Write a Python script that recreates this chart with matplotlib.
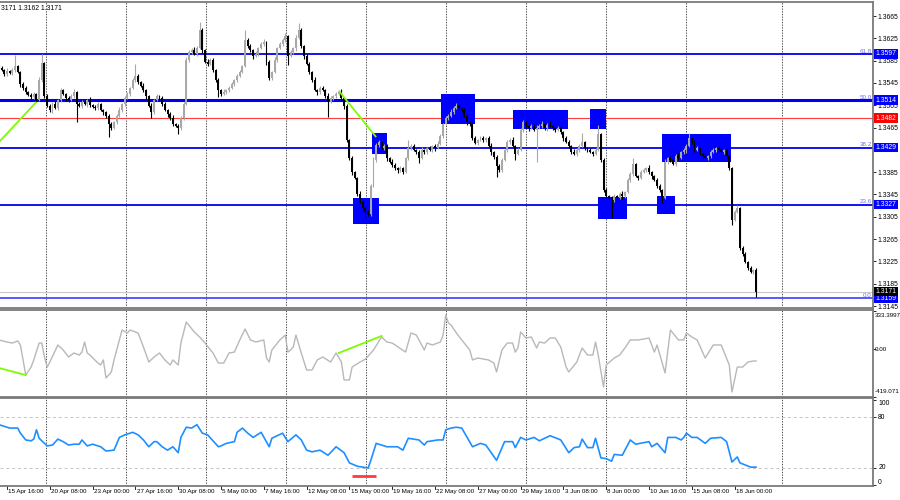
import numpy as np
import matplotlib
matplotlib.use("Agg")
import matplotlib.pyplot as plt
from matplotlib.transforms import blended_transform_factory as blend

plt.rcParams['font.family'] = ['Liberation Sans', 'DejaVu Sans']

# ---------------- data ----------------
open0 = 1.3575
closes = [
    1.3572, 1.3568, 1.3561, 1.3566, 1.3563, 1.3568, 1.3575, 1.3565, 1.3543, 1.3536,
    1.3529, 1.3523, 1.3520, 1.3525, 1.3514, 1.3550, 1.3581, 1.3522, 1.3504, 1.3496,
    1.3507, 1.3500, 1.3514, 1.3532, 1.3525, 1.3518, 1.3514, 1.3522, 1.3529, 1.3507,
    1.3504, 1.3511, 1.3507, 1.3514, 1.3505, 1.3502, 1.3500, 1.3507, 1.3496, 1.3493,
    1.3486, 1.3471, 1.3464, 1.3475, 1.3486, 1.3496, 1.3507, 1.3518, 1.3525, 1.3536,
    1.3550, 1.3558, 1.3547, 1.3540, 1.3532, 1.3522, 1.3504, 1.3493, 1.3514, 1.3522,
    1.3518, 1.3507, 1.3496, 1.3489, 1.3482, 1.3471, 1.3468, 1.3464, 1.3482, 1.3507,
    1.3586, 1.3600, 1.3604, 1.3597, 1.3607, 1.3640, 1.3604, 1.3583, 1.3579, 1.3586,
    1.3568, 1.3550, 1.3532, 1.3525, 1.3529, 1.3532, 1.3536, 1.3543, 1.3550, 1.3558,
    1.3565, 1.3575, 1.3622, 1.3611, 1.3604, 1.3593, 1.3597, 1.3607, 1.3615, 1.3618,
    1.3583, 1.3554, 1.3565, 1.3586, 1.3607, 1.3615, 1.3622, 1.3629, 1.3593, 1.3600,
    1.3607, 1.3626, 1.3640, 1.3611, 1.3593, 1.3579, 1.3565, 1.3550, 1.3532, 1.3529,
    1.3536, 1.3532, 1.3522, 1.3511, 1.3518, 1.3522, 1.3525, 1.3529, 1.3518, 1.3504,
    1.3443, 1.3410, 1.3385, 1.3375, 1.3346, 1.3332, 1.3321, 1.3314, 1.3310, 1.3360,
    1.3407, 1.3434, 1.3439, 1.3428, 1.3432, 1.3410, 1.3403, 1.3398, 1.3392, 1.3389,
    1.3392, 1.3385, 1.3410, 1.3428, 1.3432, 1.3425, 1.3421, 1.3410, 1.3425, 1.3421,
    1.3428, 1.3425, 1.3432, 1.3428, 1.3436, 1.3450, 1.3471, 1.3482, 1.3486, 1.3493,
    1.3500, 1.3504, 1.3500, 1.3496, 1.3486, 1.3475, 1.3471, 1.3446, 1.3437, 1.3443,
    1.3446, 1.3443, 1.3446, 1.3432, 1.3421, 1.3412, 1.3396, 1.3389, 1.3407, 1.3425,
    1.3439, 1.3443, 1.3432, 1.3418, 1.3425, 1.3461, 1.3475, 1.3468, 1.3464, 1.3468,
    1.3461, 1.3464, 1.3468, 1.3471, 1.3464, 1.3470, 1.3468, 1.3464, 1.3461, 1.3464,
    1.3457, 1.3446, 1.3439, 1.3432, 1.3421, 1.3418, 1.3425, 1.3432, 1.3439, 1.3428,
    1.3425, 1.3421, 1.3418, 1.3425, 1.3454, 1.3407, 1.3353, 1.3342, 1.3339, 1.3335,
    1.3342, 1.3339, 1.3346, 1.3342, 1.3349, 1.3371, 1.3382, 1.3399, 1.3378, 1.3375,
    1.3385, 1.3389, 1.3392, 1.3385, 1.3378, 1.3371, 1.3360, 1.3353, 1.3339, 1.3403,
    1.3410, 1.3407, 1.3399, 1.3414, 1.3410, 1.3421, 1.3425, 1.3432, 1.3446, 1.3439,
    1.3425, 1.3428, 1.3418, 1.3414, 1.3410, 1.3414, 1.3421, 1.3425, 1.3428, 1.3425,
    1.3421, 1.3425, 1.3414, 1.3392, 1.3299, 1.3314, 1.3321, 1.3249, 1.3238, 1.3224,
    1.3213, 1.3206, 1.3210, 1.3171,
]
# wick lengths beyond the candle body, in pips
wick_up = [
    3, 4, 2, 5, 3, 4, 20, 3, 2, 4,   3, 2, 4, 3, 2, 5, 16, 2, 3, 4,
    3, 5, 2, 4, 3, 2, 4, 3, 5, 2,    3, 4, 2, 3, 5, 2, 3, 4, 2, 3,
    2, 3, 4, 2, 3, 5, 2, 4, 3, 2,    4, 21, 3, 2, 4, 3, 2, 5, 3, 4,
    2, 3, 4, 2, 3, 5, 2, 3, 4, 3,    5, 4, 3, 6, 4, 14, 3, 2, 5, 4,
    3, 2, 4, 3, 5, 2, 3, 4, 2, 3,    4, 3, 18, 4, 3, 2, 5, 3, 4, 6,
    3, 4, 2, 5, 3, 4, 3, 5, 2, 4,    3, 5, 12, 3, 2, 4, 3, 2, 5, 3,
    4, 3, 2, 5, 3, 2, 4, 3, 5, 2,    3, 2, 4, 3, 2, 5, 3, 2, 3, 4,
    5, 3, 4, 2, 3, 4, 2, 5, 3, 2,    4, 3, 2, 15, 3, 4, 2, 3, 5, 2,
    3, 4, 2, 3, 5, 4, 3, 4, 3, 5,    3, 5, 3, 2, 4, 3, 2, 3, 4, 2,
    3, 4, 2, 3, 5, 2, 3, 4, 3, 2,    4, 3, 5, 2, 3, 4, 3, 2, 5, 3,
    4, 6, 3, 5, 2, 4, 6, 3, 2, 4,    3, 2, 4, 3, 2, 5, 3, 4, 16, 2,
    3, 4, 2, 3, 16, 2, 3, 4, 2, 3,   4, 2, 3, 5, 2, 3, 4, 11, 3, 2,
    4, 3, 2, 5, 3, 2, 4, 3, 2, 5,    3, 4, 2, 3, 5, 2, 4, 3, 9, 2,
    3, 4, 2, 3, 5, 2, 4, 3, 2, 4,    3, 2, 4, 3, 2, 3, 5, 2, 3, 4,
    2, 3, 2, 3,
]
wick_dn = [
    3, 2, 4, 3, 2, 4, 3, 2, 5, 3,    4, 2, 3, 4, 3, 2, 3, 4, 2, 3,
    5, 2, 4, 3, 2, 5, 3, 2, 4, 32,   3, 4, 2, 5, 3, 2, 4, 3, 2, 5,
    3, 23, 4, 2, 3, 2, 4, 3, 2, 3,   2, 3, 4, 2, 3, 5, 2, 11, 3, 2,
    4, 3, 2, 5, 3, 4, 2, 10, 3, 4,   2, 3, 4, 2, 3, 2, 5, 3, 4, 2,
    3, 4, 12, 3, 2, 4, 3, 2, 4, 3,   2, 3, 2, 4, 3, 5, 2, 3, 2, 4,
    5, 3, 4, 2, 3, 2, 4, 3, 16, 2,   3, 4, 2, 3, 5, 2, 4, 3, 2, 5,
    3, 2, 4, 27, 2, 3, 4, 2, 3, 5,   4, 3, 5, 2, 4, 3, 5, 11, 4, 3,
    2, 3, 4, 2, 3, 5, 2, 4, 3, 6,    3, 4, 2, 3, 4, 2, 3, 9, 2, 3,
    4, 2, 3, 5, 2, 3, 4, 2, 3, 2,    3, 2, 4, 3, 2, 5, 3, 4, 2, 3,
    2, 4, 3, 2, 5, 3, 20, 4, 3, 2,   3, 4, 2, 11, 3, 2, 4, 3, 5, 2,
    3, 57, 2, 4, 3, 5, 2, 3, 4, 2,   3, 5, 2, 4, 3, 2, 4, 3, 2, 4,
    3, 2, 4, 3, 2, 3, 4, 2, 3, 32,   3, 4, 2, 5, 3, 2, 4, 3, 2, 4,
    3, 2, 4, 3, 5, 2, 3, 4, 9, 2,    3, 4, 2, 3, 4, 2, 3, 5, 2, 3,
    4, 2, 3, 5, 2, 4, 3, 2, 3, 4,    2, 3, 4, 3, 9, 2, 3, 4, 3, 2,
    3, 2, 4, 9,
]

# Fibonacci / horizontal levels
fib_levels = [1.3597, 1.3514, 1.3429, 1.3327, 1.3159]
fib_names = ["61.8", "50.0", "38.2", "23.6", "0.0"]
red_level = 1.3482
bid_price = 1.3171
price_ticks = [1.3665, 1.3625, 1.3585, 1.3545, 1.3505, 1.3465, 1.3425,
               1.3385, 1.3345, 1.3305, 1.3265, 1.3225, 1.3185, 1.3145]

# highlighted zones: (first bar, last bar, low price, high price)
zones = [
    (132.3, 142.1, 1.3292, 1.3339),
    (139.4, 145.0, 1.3418, 1.3455),
    (165.2, 178.0, 1.3471, 1.3525),
    (192.1, 212.7, 1.3462, 1.3496),
    (220.9, 226.9, 1.3462, 1.3498),
    (223.9, 234.8, 1.3301, 1.3340),
    (246.0, 252.7, 1.3310, 1.3342),
    (247.9, 273.6, 1.3403, 1.3453),
]
# divergence lines: (bar0, value0, bar1, value1)
price_trend_lines = [(0, 1.3439, 14, 1.3511), (127, 1.3531, 141, 1.3448)]
cci_trend_lines = [(0, -165, 10, -227), (127, -34, 143, 115)]

cci_bar = [0, 3, 5, 7, 8, 10, 12, 13, 15, 16, 17, 18, 19, 22, 24, 26, 28, 30, 31, 32,
           33, 34, 37, 38, 39, 40, 42, 43, 45, 46, 48, 49, 52, 54, 56, 58, 60, 62, 64, 65,
           67, 68, 70, 73, 75, 77, 80, 82, 84, 86, 88, 90, 92, 94, 96, 99, 100, 101, 102, 105,
           107, 108, 109, 110, 111, 113, 115, 117, 119, 121, 124, 126, 128, 129, 131, 132, 135, 137, 140, 143,
           145, 147, 152, 154, 156, 159, 160, 162, 165, 166, 167, 168, 169, 171, 173, 176, 177, 179, 183, 185,
           186, 188, 190, 192, 193, 194, 195, 197, 199, 201, 202, 204, 206, 208, 210, 212, 213, 216, 218, 220,
           222, 223, 224, 226, 227, 230, 232, 234, 236, 239, 243, 245, 246, 249, 251, 254, 256, 257, 259, 261,
           264, 267, 270, 273, 274, 276, 278, 280, 282, 283]
cci_val = [80, 62, 53, 71, 36, -227, -157, -95, 53, 53, -69, -157, -113, 36, -8, -69, -34, -52, -26, 62,
           -34, -52, -122, -139, -95, -253, -200, -95, 80, 167, 141, 167, 141, 18, -113, -69, -34, -95, -139, -95,
           -139, 53, 237, 150, 106, 53, -34, -122, -122, -34, -26, 80, 176, 80, 62, 80, -78, -113, -8, 80,
           123, -26, -8, 18, 123, -34, -183, -183, -95, -69, -113, -34, -113, -270, -270, -157, -113, -87, -8, 106,
           62, 53, -26, 141, 123, -8, 53, 36, 62, 123, 298, 228, 211, 141, 80, -8, -95, -78, -95, -122,
           -200, -8, 53, 53, -26, 10, 150, 97, 106, 10, 62, 53, 97, 97, 18, -157, -200, -113, 10, -52,
           -52, 62, -52, -332, -139, -78, -52, 10, 80, 80, 97, -26, 36, -209, 167, 80, 80, 141, 106, 80,
           -78, 36, 36, -139, -375, -157, -157, -113, -104, -104]
cci_max, cci_min = 333.3997, -419.071

rsi_bar = [0, 3, 4, 7, 8, 10, 12, 13, 14, 15, 18, 20, 22, 24, 26, 28, 30, 31, 33, 35,
           38, 40, 43, 45, 47, 50, 52, 54, 56, 58, 59, 61, 63, 65, 67, 68, 70, 72, 74, 76,
           78, 82, 83, 85, 88, 89, 91, 93, 95, 98, 101, 102, 104, 106, 108, 111, 113, 115, 117, 120,
           123, 126, 129, 131, 134, 136, 138, 139, 141, 145, 149, 151, 153, 157, 159, 160, 164, 166, 167, 169,
           171, 173, 175, 177, 180, 182, 186, 189, 192, 193, 195, 197, 200, 202, 206, 210, 213, 215, 217, 218,
           220, 222, 223, 225, 227, 229, 230, 233, 236, 238, 243, 244, 246, 249, 250, 253, 255, 256, 257, 259,
           261, 264, 266, 270, 272, 274, 276, 277, 281, 283]
rsi_val = [71, 68, 67, 67, 61, 53, 52, 54, 65, 55, 46, 47, 54, 51, 47, 48, 48, 53, 46, 48,
           45, 40, 41, 56, 59, 62, 59, 53, 45, 51, 51, 45, 41, 45, 38, 56, 68, 67, 71, 61,
           59, 45, 46, 49, 51, 62, 67, 61, 56, 62, 45, 55, 58, 61, 51, 59, 53, 41, 39, 41,
           35, 45, 38, 26, 22, 21, 20, 29, 49, 45, 45, 41, 55, 53, 47, 51, 53, 53, 65, 67,
           68, 67, 56, 45, 49, 47, 29, 51, 51, 44, 56, 53, 56, 52, 58, 53, 38, 44, 45, 54,
           44, 44, 55, 32, 31, 28, 36, 35, 53, 48, 51, 45, 49, 38, 56, 56, 53, 56, 61, 56,
           56, 49, 55, 56, 51, 27, 33, 26, 21, 21]
rsi_levels = [80, 20]
rsi_labels = ["100", "80", "20", "0"]
rsi_oversold_mark = (132, 141, 10.5)

date_bars = [3 + 16 * k for k in range(18)]
date_labels = ["15 Apr 16:00", "20 Apr 08:00", "23 Apr 00:00", "27 Apr 16:00", "30 Apr 08:00",
               "5 May 00:00", "7 May 16:00", "12 May 08:00", "15 May 00:00", "19 May 16:00",
               "22 May 08:00", "27 May 00:00", "29 May 16:00", "3 Jun 08:00", "8 Jun 00:00",
               "10 Jun 16:00", "15 Jun 08:00", "18 Jun 00:00"]
header = "3171 1.3162 1.3171"

# ---------------- layout ----------------
W, H = 900, 500
BAR_PX, BAR0_PX = 2.675, -1.0
RIGHT_PX = 873
PRICE_TOP, PRICE_BOT = 1.36901, 1.31415
grid_px = [46, 126, 206, 286, 366, 446, 526, 606, 686, 782]

def px2bar(p):
    return (p - BAR0_PX) / BAR_PX

fig = plt.figure(figsize=(9, 5), dpi=100)
fig.patch.set_facecolor('white')

def add_ax(top, bot):
    return fig.add_axes([0, 1 - bot / H, RIGHT_PX / W, (bot - top) / H])

ax_m = add_ax(2, 308)
ax_c = add_ax(310, 397)
ax_r = add_ax(398, 486)

FS = 4.9
FS_SMALL = 4.5
SPINE = '#7a7a7a'
for ax in (ax_m, ax_c, ax_r):
    ax.set_xlim(px2bar(0), px2bar(RIGHT_PX))
    ax.set_facecolor('white')
    ax.spines['left'].set_visible(False)
    for s in ('top', 'bottom', 'right'):
        ax.spines[s].set_color(SPINE)
        ax.spines[s].set_linewidth(1.3)
    ax.set_xticks([])
    ax.yaxis.tick_right()
    ax.tick_params(axis='y', length=2, width=0.6, pad=1.5, labelsize=FS, colors='black')
    for g in grid_px:
        ax.axvline(px2bar(g), color='#303030', lw=0.6, ls=(0, (1.6, 1.6)), zorder=1)

# ---- main price panel ----
ax_m.set_ylim(PRICE_BOT, PRICE_TOP)
ax_m.set_yticks(price_ticks)
ax_m.set_yticklabels([f"{t:.4f}" for t in price_ticks])

c = np.array(closes)
o = np.concatenate([[open0], c[:-1]])
pip = 0.0001
hi = np.maximum(o, c) + np.array(wick_up) * pip
lo = np.minimum(o, c) - np.array(wick_dn) * pip
xb = np.arange(len(c))
cols = np.where(c >= o, '#a8a8a8', '#000000')
ax_m.vlines(xb, lo, hi, colors=cols, lw=0.8, zorder=4)
body = np.maximum(np.abs(c - o), 0.00008)
ax_m.bar(xb, body, bottom=np.minimum(o, c), width=0.74, color=cols, linewidth=0, zorder=5)

for (b0, b1, p0, p1) in zones:
    ax_m.fill_between([b0, b1], p0, p1, color='#0000ff', lw=0, zorder=3)

for lev, name in zip(fib_levels, fib_names):
    lw = 2.2 if name == "50.0" else 1.3
    col = '#4a4aff' if name == "0.0" else '#0000ee'
    ax_m.axhline(lev, color=col, lw=lw, zorder=2)
    ax_m.text(0.9985, lev + 0.00005, name, transform=blend(ax_m.transAxes, ax_m.transData),
              ha='right', va='bottom', fontsize=FS_SMALL, color='#7070ff', zorder=8)
ax_m.axhline(red_level, color='#ff3b3b', lw=0.8, zorder=2)
ax_m.axhline(bid_price, color='#c8c8c8', lw=0.8, zorder=2)

for (b0, v0, b1, v1) in price_trend_lines:
    ax_m.plot([b0, b1], [v0, v1], color='#7cfc00', lw=1.3, zorder=7, solid_capstyle='butt')

tr = blend(ax_m.transAxes, ax_m.transData)
boxes = [(l, '#0000ff') for l in fib_levels] + [(red_level, '#ff0000'), (bid_price, '#000000')]
for lev, bg in boxes:
    ax_m.text(1.003, lev, f"{lev:.4f}", transform=tr, ha='left', va='center', fontsize=FS,
              color='white', zorder=20, clip_on=False,
              bbox=dict(boxstyle='square,pad=0.2', fc=bg, ec='none'))

ax_m.text(0.001, 1 - 7 / 306, header, transform=ax_m.transAxes, ha='left', va='center',
          fontsize=FS, color='black')

# ---- CCI panel ----
ax_c.set_ylim(cci_min, cci_max + 8.75)
ax_c.set_yticks([cci_max, 0, cci_min])
ax_c.set_yticklabels([])
ax_c.plot(cci_bar, cci_val, color='#b8b8b8', lw=1.0, zorder=3)
for (b0, v0, b1, v1) in cci_trend_lines:
    ax_c.plot([b0, b1], [v0, v1], color='#7cfc00', lw=1.3, zorder=6)
trc = blend(ax_c.transAxes, ax_c.transData)
for v, s in [(cci_max - 35, f"{cci_max:.4f}"), (0, "0.00"), (cci_min + 45, f"{cci_min:.3f}")]:
    ax_c.text(1.002, v, s, transform=trc, ha='left', va='center', fontsize=FS_SMALL, clip_on=False)

# ---- RSI panel ----
ax_r.set_ylim(-1.2, 102.4)
ax_r.set_yticks([100, 80, 20, 0])
ax_r.set_yticklabels([])
for lv in rsi_levels:
    ax_r.axhline(lv, color='#c4c4c4', lw=0.7, ls=(0, (3, 3)), zorder=1)
ax_r.plot(rsi_bar, rsi_val, color='#1e8fff', lw=1.2, zorder=4)
b0, b1, rv = rsi_oversold_mark
ax_r.plot([b0, b1], [rv, rv], color='#ff3b3b', lw=2.0, zorder=5, solid_capstyle='butt')
trr = blend(ax_r.transAxes, ax_r.transData)
for v, s in zip([96.5, 80, 20, 3.5], rsi_labels):
    ax_r.text(1.006, v, s, transform=trr, ha='left', va='center', fontsize=FS, clip_on=False)

# date axis
trd = blend(ax_r.transData, ax_r.transAxes)
for b, s in zip(date_bars, date_labels):
    ax_r.plot([b, b], [0, -0.035], transform=trd, color='black', lw=0.6, clip_on=False)
    ax_r.text(b + 0.45, -0.035, s, transform=trd, ha='left', va='top', fontsize=FS_SMALL,
              clip_on=False)

fig.savefig('out.png', dpi=100, facecolor='white')
